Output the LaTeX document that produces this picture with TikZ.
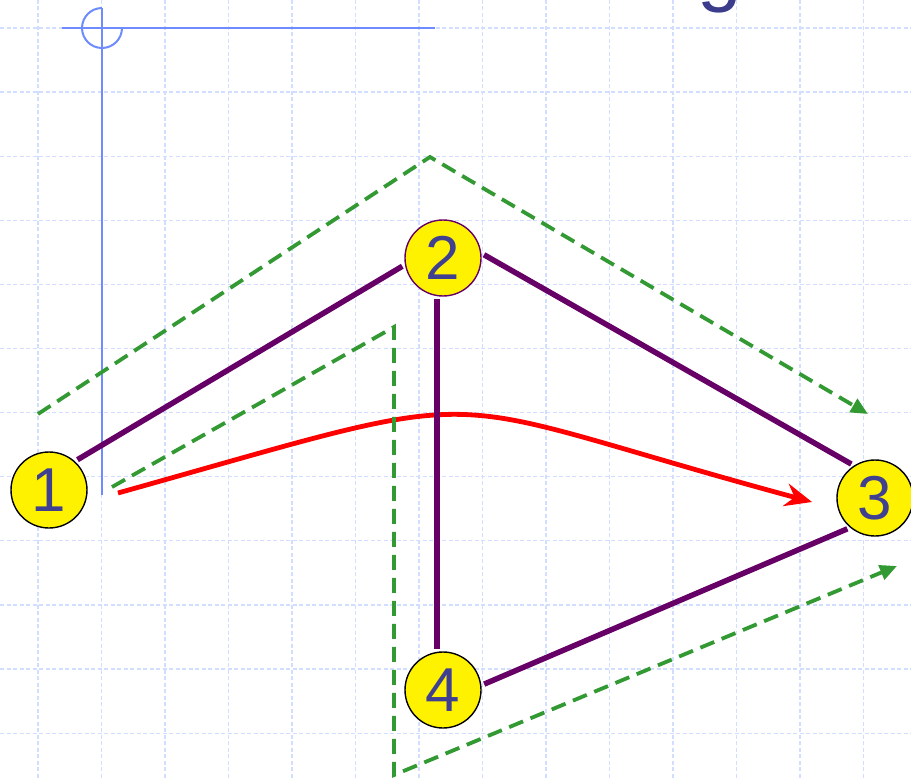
\documentclass[tikz,border=0pt]{standalone}
\usepackage{fontspec}
\setmainfont{Liberation Sans}
\usetikzlibrary{arrows.meta}
\definecolor{gridc}{RGB}{210,222,255}
\definecolor{crossc}{RGB}{110,140,255}
\definecolor{edgec}{RGB}{102,0,102}
\definecolor{greenc}{RGB}{51,153,51}
\definecolor{numc}{RGB}{64,64,144}
\definecolor{titlec}{RGB}{60,60,140}
\begin{document}
\begin{tikzpicture}[x=1pt,y=-1pt,
  gridline/.style={gridc, line width=1.2pt, dash pattern=on 4pt off 2.5pt},
  vnode/.style={circle, draw=black, line width=1.4pt, fill=yellow, minimum size=76pt, inner sep=0pt, font=\fontsize{62}{62}\selectfont, text=numc},
  edge/.style={edgec, line width=5.5pt, shorten <=3pt, shorten >=3pt},
  greenpath/.style={greenc, line width=3.8pt, dash pattern=on 15pt off 8pt, -{Triangle[length=17pt,width=15pt]}},
  redpath/.style={red, line width=4.8pt, -{Stealth[length=27pt,width=23pt,inset=9pt]}},
  cross/.style={crossc, line width=2pt}]
\useasboundingbox (0,0) rectangle (911,778);
\clip (0,0) rectangle (911,778);
\fill[white] (0,0) rectangle (911,778);
% grid
\foreach \i in {0,...,13} \draw[gridline] ({38+63.5*\i},0) -- ({38+63.5*\i},778);
\foreach \j in {0,...,11} \draw[gridline] (0,{28+64.1*\j}) -- (911,{28+64.1*\j});
% title (cut off at top)
\node[anchor=base east, text=titlec, font=\fontsize{80}{80}\selectfont, inner sep=0pt] (title) at (742,-3) {Source routing};
% crosshair
\draw[cross] (62,28) -- (435,28);
\draw[cross] (102,8) -- (102,495);
\draw[cross] (102,8) arc[start angle=270, end angle=0, radius=20];
% nodes
\node[vnode] (n1) at (49,490) {1};
\node[vnode, draw=edgec] (n2) at (443,258) {2};
\node[vnode] (n3) at (875,498) {3};
\node[vnode] (n4) at (443,690) {4};
% red curve
\coordinate (r0) at (118,493);
\coordinate (r1) at (812,502);
\draw[redpath] (r0) .. controls (518,381) and (412,394) .. (r1);
% green dashed paths
\coordinate (a0) at (38,414);
\coordinate (a1) at (430,157);
\coordinate (a2) at (868,414);
\draw[greenpath] (a0) -- (a1) -- (a2);
\coordinate (b0) at (112,487);
\coordinate (b1) at (394,327);
\coordinate (b2) at (394,775);
\coordinate (b3) at (897,566);
\draw[greenpath] (b0) -- (b1) -- (b2) -- (b3);
% purple edges
\draw[edge] (n1.48) -- (n2.190);
\draw[edge] (n2.7) -- (n3.123);
\draw[edge] (n2.261) -- (n4.99);
\draw[edge] (n3.230) -- (n4.7);
\end{tikzpicture}
\end{document}
